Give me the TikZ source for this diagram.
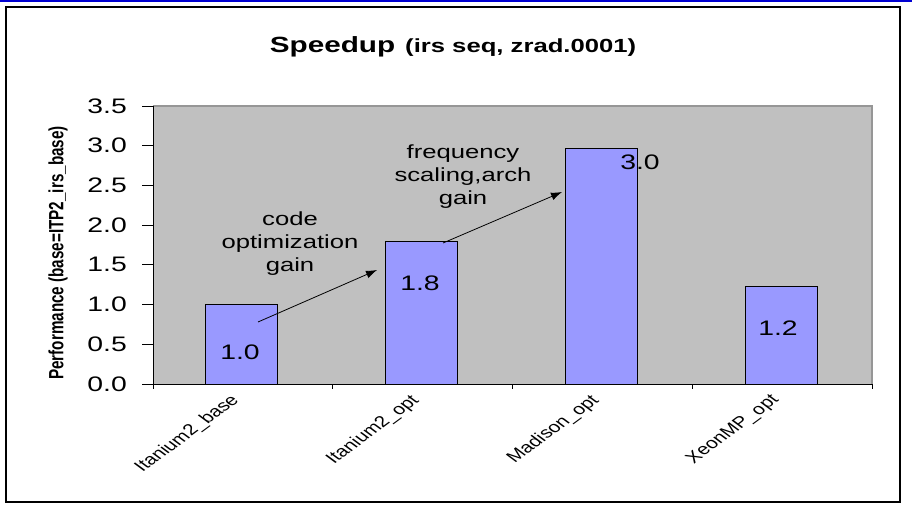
\documentclass[tikz,border=0pt]{standalone}
\usepackage{fontspec}
\usetikzlibrary{arrows.meta}
\newfontfamily\chartfont{Liberation Sans}[FakeStretch=1.35]
\newfontfamily\sidefont{Liberation Sans}[FakeStretch=0.74]
\newfontfamily\catfont{Liberation Sans}
\definecolor{barblue}{RGB}{153,153,255}
\definecolor{plotgray}{RGB}{192,192,192}
\definecolor{rimgray}{RGB}{150,150,150}
\definecolor{topblue}{RGB}{0,0,210}

\begin{document}
\begin{tikzpicture}
[
  x=1pt, y=-1pt,
  bar/.style       = {draw=black, line width=1pt, fill=barblue},
  ticklabel/.style = {anchor=east, inner sep=0pt,
                      font=\chartfont\fontsize{21}{21}\selectfont},
  value/.style     = {inner sep=0pt, font=\chartfont\fontsize{21}{21}\selectfont},
  note/.style      = {align=center, inner sep=0pt,
                      font=\chartfont\fontsize{19}{23}\selectfont},
  category/.style  = {anchor=east, inner sep=0pt, xscale=1.35, rotate=45,
                      font=\catfont\fontsize{15.5}{15.5}\selectfont},
  gain/.style      = {draw, line width=0.8pt, -{Latex[length=11pt, width=8pt]}}
]
\useasboundingbox (0,0) rectangle (912,506);
\draw [topblue, line width=1.5pt] (0,1) -- (912,1);
\draw [line width=1.3pt] (6,7) rectangle (900,502);

\node [anchor=base, inner sep=0pt] (title) at (453,52)
  {\chartfont\bfseries{\fontsize{22}{22}\selectfont Speedup}\hspace{10pt}%
   {\fontsize{19}{19}\selectfont (irs seq, zrad.0001)}};

\fill [plotgray] (153,106) rectangle (872,384);
\draw [rimgray, line width=1.2pt] (153,106) -- (872,106) -- (872,384);
\draw [line width=1pt] (153,106) -- (153,389);
\draw [line width=1pt] (142,384) -- (872,384);

\foreach \v/\t in {0/0.0, 1/0.5, 2/1.0, 3/1.5, 4/2.0, 5/2.5, 6/3.0, 7/3.5}
{
  \draw [line width=1pt] (142,384-39.71*\v) -- (153,384-39.71*\v);
  \node [ticklabel] (tick\v) at (127,384-39.71*\v) {\t};
}
\foreach \k in {1,...,4}
  \draw [line width=1pt] (153+179.75*\k,384) -- (153+179.75*\k,389);

\node [rotate=90, inner sep=0pt] (ylabel) at (58,253)
  {\sidefont\bfseries\fontsize{20.6}{20.6}\selectfont Performance (base=ITP2\_irs\_base)};

\foreach \c/\h in {241/1.0, 421/1.8, 601/2.97, 781/1.23}
  \draw [bar] (\c-36,384) rectangle (\c+36,384-79.43*\h);

\node [value] (v1) at (240,352) {1.0};
\node [value] (v2) at (420,283) {1.8};
\node [value] (v3) at (640,162) {3.0};
\node [value] (v4) at (778,328) {1.2};

\node [note] (codegain) at (290,244) {code\\optimization\\gain};
\node [note] (freqgain) at (463,177) {frequency\\scaling,arch\\gain};

\coordinate (from1) at (258,322);
\coordinate (to1)   at (377,270);
\coordinate (from2) at (443,243);
\coordinate (to2)   at (562,192);
\draw [gain] (from1) -- (to1);
\draw [gain] (from2) -- (to2);

\node [category] (base)    at (236,398) {Itanium2\_base};
\node [category] (opt)     at (416,398) {Itanium2\_opt};
\node [category] (madison) at (596,398) {Madison\_opt};
\node [category] (xeon)    at (776,398) {XeonMP\_opt};
\end{tikzpicture}
\end{document}
